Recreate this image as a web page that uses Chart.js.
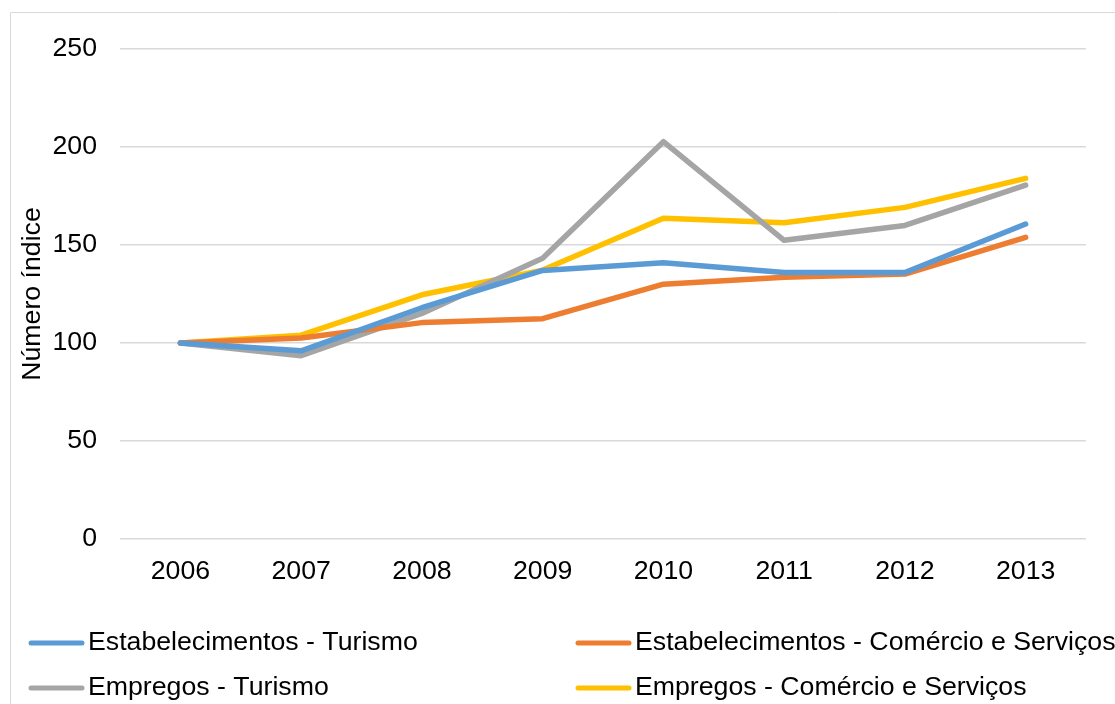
<!DOCTYPE html>
<html>
<head>
<meta charset="utf-8">
<script src="https://cdn.jsdelivr.net/npm/chart.js@4/dist/chart.umd.min.js"></script>
<style>
  html, body { margin: 0; padding: 0; background: #fff; }
  #wrap { width: 1115px; height: 704px; position: relative; }
</style>
</head>
<body>
<div id="wrap"><canvas id="c" width="1115" height="704"></canvas></div>
<script>
const years = ['2006', '2007', '2008', '2009', '2010', '2011', '2012', '2013'];
const estabTurismo = [100, 96, 118, 137, 141, 136, 136, 160.7];
const estabComercio = [100, 102.5, 110.4, 112.4, 130, 133.5, 135.2, 153.9];
const empregosTurismo = [100, 93.5, 115.1, 143.2, 202.7, 152.4, 160, 180.6];
const empregosComercio = [100, 104, 124.6, 137.2, 163.6, 161.4, 169.2, 184];
const seriesNames = ['Estabelecimentos - Turismo', 'Estabelecimentos - Comércio e Serviços', 'Empregos - Turismo', 'Empregos - Comércio e Serviços'];
const yTicks = [0, 50, 100, 150, 200, 250];
const colors = ['#5B9BD5', '#ED7D31', '#A5A5A5', '#FFC000'];
const FONT = 'Liberation Sans, Arial, sans-serif';
const FS = 26.7;

const frame = {
  id: 'frame',
  beforeDraw(chart) {
    const ctx = chart.ctx;
    ctx.save();
    ctx.strokeStyle = '#D9D9D9';
    ctx.lineWidth = 1;
    ctx.beginPath();
    ctx.moveTo(10.5, 710);
    ctx.lineTo(10.5, 12.5);
    ctx.lineTo(1120, 12.5);
    ctx.stroke();
    ctx.restore();
  }
};

const legendPos = [
  { lx: 29, tx: 88, y: 643 },
  { lx: 576, tx: 635, y: 643 },
  { lx: 29, tx: 88, y: 688 },
  { lx: 576, tx: 635, y: 688 }
];
const customLegend = {
  id: 'customLegend',
  afterDraw(chart) {
    const ctx = chart.ctx;
    ctx.save();
    chart.data.datasets.forEach((ds, i) => {
      const p = legendPos[i];
      ctx.strokeStyle = ds.borderColor;
      ctx.lineWidth = 5;
      ctx.lineCap = 'round';
      ctx.beginPath();
      ctx.moveTo(p.lx + 2, p.y);
      ctx.lineTo(p.lx + 53, p.y);
      ctx.stroke();
      ctx.fillStyle = '#000';
      ctx.font = FS + 'px ' + FONT;
      ctx.textBaseline = 'middle';
      ctx.textAlign = 'left';
      ctx.fillText(ds.label, p.tx, p.y);
    });
    ctx.restore();
  }
};

const seriesData = [estabTurismo, estabComercio, empregosTurismo, empregosComercio];

new Chart(document.getElementById('c'), {
  type: 'line',
  data: {
    labels: years,
    datasets: seriesData.map((d, i) => ({
      label: seriesNames[i],
      data: d,
      borderColor: colors[i],
      backgroundColor: colors[i],
      borderWidth: 5.5,
      pointRadius: 0,
      borderCapStyle: 'round',
      borderJoinStyle: 'round',
      tension: 0
    }))
  },
  options: {
    responsive: false,
    animation: false,
    devicePixelRatio: 1,
    layout: { padding: { left: 0, right: 29, top: 49, bottom: 0 } },
    plugins: { legend: { display: false }, tooltip: { enabled: false } },
    scales: {
      x: {
        offset: true,
        grid: { display: false, drawTicks: false },
        border: { display: false },
        ticks: { color: '#000', font: { family: FONT, size: FS }, padding: 17, maxRotation: 0 },
        afterFit(s) { s.height = 165; }
      },
      y: {
        min: 0, max: 250,
        afterBuildTicks(s) { s.ticks = yTicks.map(v => ({ value: v })); },
        grid: { color: '#D9D9D9', lineWidth: 1.5, drawTicks: false },
        border: { display: false },
        ticks: { color: '#000', font: { family: FONT, size: FS }, padding: 23 },
        title: { display: true, text: 'Número índice', color: '#000', font: { family: FONT, size: FS }, padding: { top: 17, bottom: 0 } },
        afterFit(s) { s.width = 120; }
      }
    }
  },
  plugins: [frame, customLegend]
});
</script>
</body>
</html>
